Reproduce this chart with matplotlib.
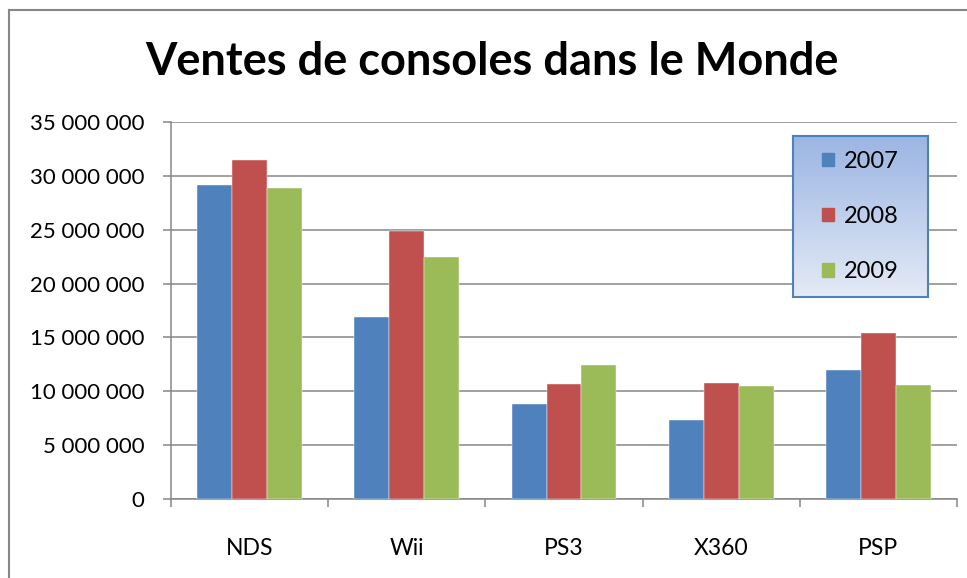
import numpy as np
import matplotlib
matplotlib.use("Agg")
import matplotlib.pyplot as plt
from matplotlib.patches import Patch
from matplotlib.colors import LinearSegmentedColormap

plt.rcParams['font.family'] = ['Lato', 'DejaVu Sans']

# données
consoles = ["NDS", "Wii", "PS3", "X360", "PSP"]
annees = ["2007", "2008", "2009"]
ventes_2007 = [29150000, 16900000, 8800000, 7300000, 11950000]
ventes_2008 = [31450000, 24850000, 10700000, 10800000, 15400000]
ventes_2009 = [28900000, 22450000, 12400000, 10450000, 10600000]
couleurs = ["#4f81bd", "#c0504d", "#9bbb59"]
yticks = [0, 5000000, 10000000, 15000000, 20000000, 25000000, 30000000, 35000000]

fig = plt.figure(figsize=(9.67, 5.78), dpi=100)
ax = fig.add_axes([0.1768, 0.1367, 0.8129, 0.6522])

x = np.arange(len(consoles))
w = 1 / 4.5
for j, serie in enumerate([ventes_2007, ventes_2008, ventes_2009]):
    ax.bar(x + (j - 1) * w, serie, width=w, color=couleurs[j],
           edgecolor="white", linewidth=0.3, zorder=3)

ax.set_xlim(-0.5, len(consoles) - 0.5)
ax.set_ylim(0, 35000000)
ax.set_yticks(yticks)
ax.set_yticklabels([f"{v:,}".replace(",", " ") for v in yticks])
ax.yaxis.grid(True, color="#868686", linewidth=1.1, zorder=0)

ax.set_xticks(x)
ax.set_xticklabels(consoles)
ax.set_xticks(np.arange(-0.5, len(consoles)), minor=True)
ax.tick_params(axis="x", which="major", length=0, pad=28, labelsize=16.5)
ax.tick_params(axis="x", which="minor", length=6, width=1.1, color="#868686")
ax.tick_params(axis="y", length=6, width=1.1, color="#868686", pad=13, labelsize=16)

for s in ["top", "right"]:
    ax.spines[s].set_visible(False)
for s in ["left", "bottom"]:
    ax.spines[s].set_color("#868686")
    ax.spines[s].set_linewidth(1.1)

fig.text(0.509, 0.893, "Ventes de consoles dans le Monde", ha="center", va="center",
         fontsize=32.5, fontweight="bold")

# cadre du graphique (haut et gauche visibles)
fig.add_artist(plt.Line2D([0.0098, 1.0], [0.983, 0.983], color="#868686", linewidth=1.5))
fig.add_artist(plt.Line2D([0.0098, 0.0098], [0.0, 0.983], color="#868686", linewidth=1.5))

# légende avec fond en dégradé
axl = fig.add_axes([0.820, 0.4862, 0.1396, 0.2785])
cmap = LinearSegmentedColormap.from_list("deg", ["#e4eaf6", "#9bb5e3"])
axl.imshow(np.linspace(0, 1, 100).reshape(-1, 1), aspect="auto", cmap=cmap,
           origin="lower", extent=[0, 1, 0, 1])
axl.set_xticks([])
axl.set_yticks([])
for s in axl.spines.values():
    s.set_color("#4f81bd")
    s.set_linewidth(1.5)
handles = [Patch(color=c) for c in couleurs]
axl.legend(handles, annees, loc="center", frameon=False, fontsize=17,
           handlelength=0.5, handleheight=0.5, handletextpad=0.45, labelspacing=1.45)

fig.savefig("out.png", dpi=100)
